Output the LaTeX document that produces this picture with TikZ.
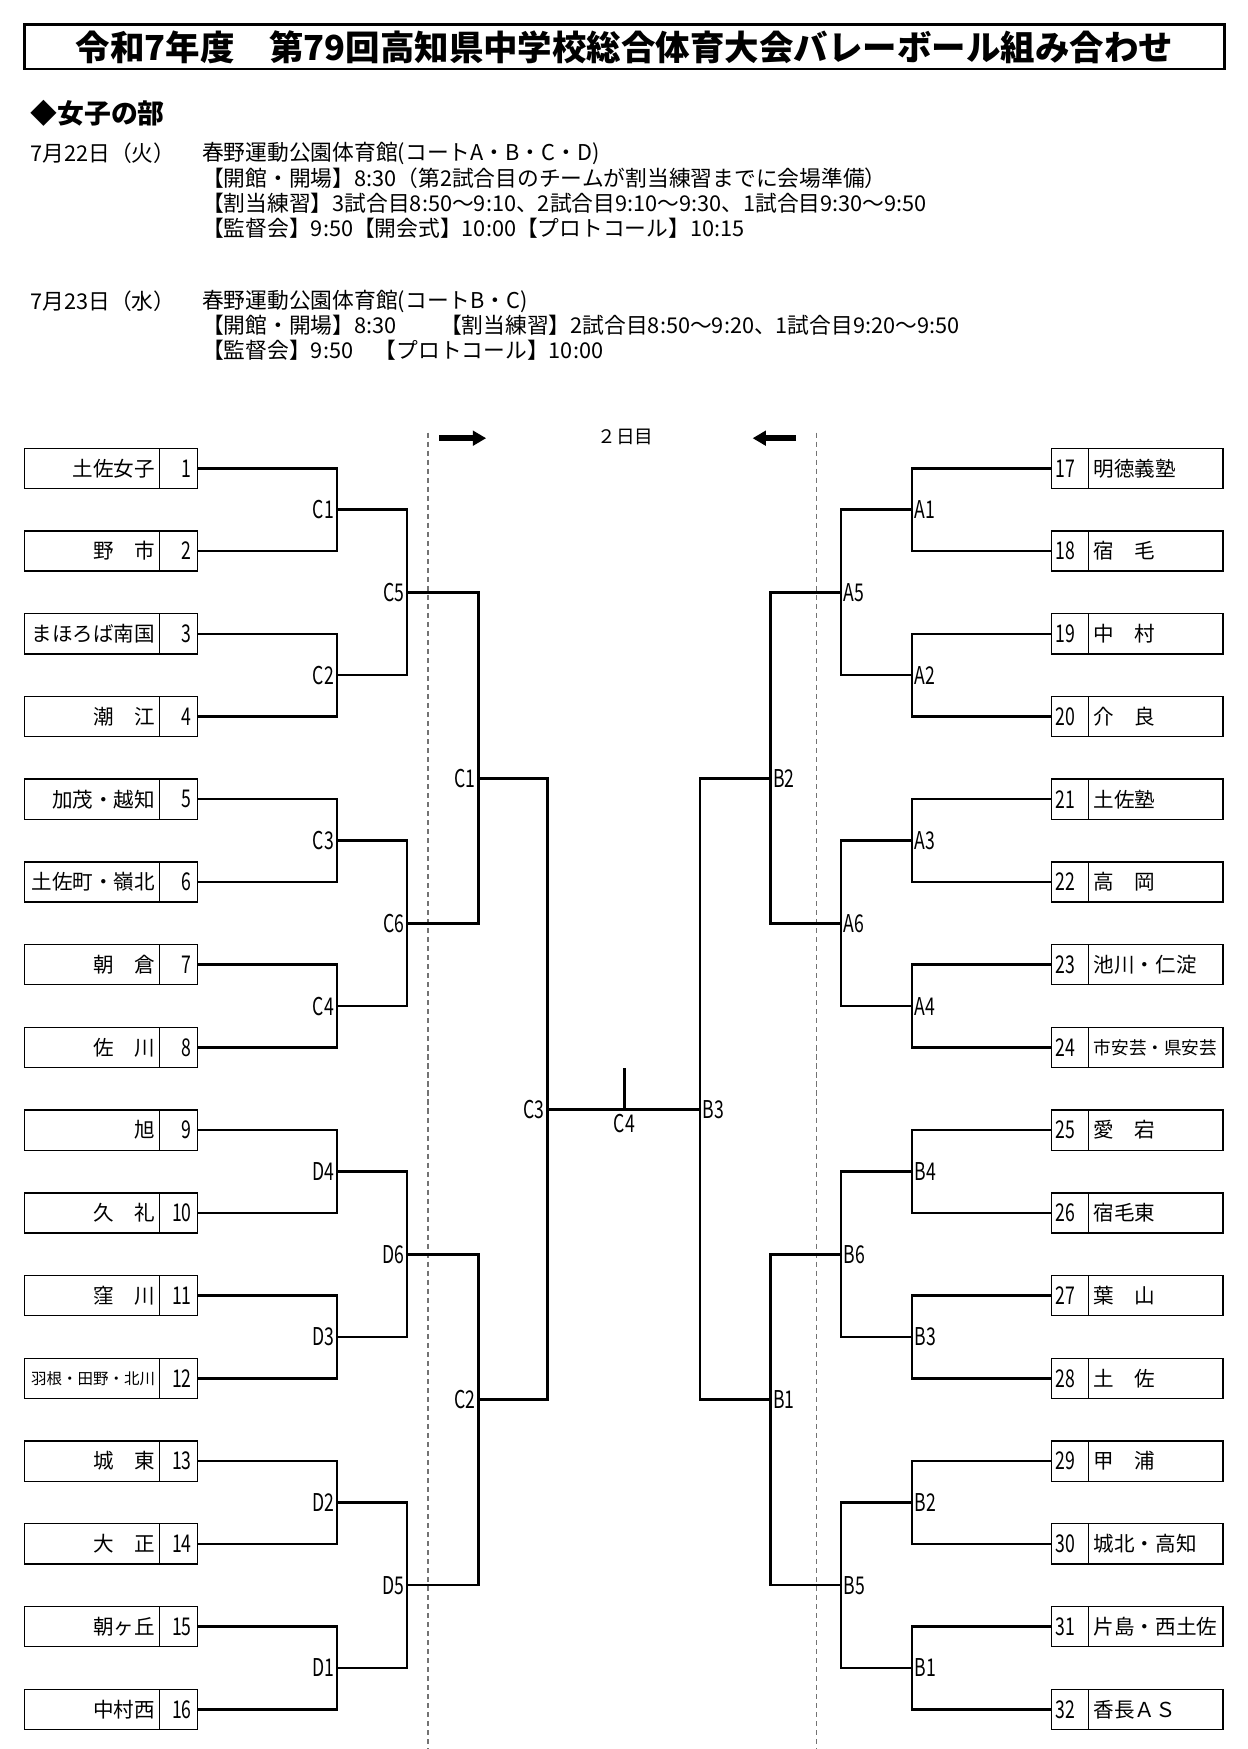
\documentclass[tikz,border=0pt]{standalone}
\usepackage{fontspec}
\usepackage{graphicx}
\setmainfont{Noto Sans CJK JP}
\usetikzlibrary{positioning,arrows.meta}
\newcommand\nar[1]{\scalebox{0.72}[1]{#1}}

\tikzset{
  wire/.style={line width=1.25pt},
  cell/.style={draw, line width=0.7pt, minimum height=0.72cm, outer sep=0pt, inner ysep=0pt},
  lname/.style={cell, text width=2.26cm, inner xsep=0.08cm, align=right, font=\fontsize{10.5}{12}\selectfont},
  lnum/.style={cell, text width=0.48cm, inner xsep=0.1cm, align=right, font=\fontsize{12.5}{13}\selectfont},
  rname/.style={cell, text width=2.22cm, inner xsep=0.1cm, align=left, font=\fontsize{10.5}{12}\selectfont},
  rnum/.style={cell, text width=0.52cm, inner xsep=0.07cm, align=left, font=\fontsize{12.5}{13}\selectfont},
  mlabel/.style={inner sep=1.2pt, font=\fontsize{12.5}{13}\selectfont},
  sched/.style={anchor=west, inner sep=0pt, font=\fontsize{11.1}{13}\selectfont},
  titlebox/.style={draw, line width=1.4pt, minimum width=21.52cm, minimum height=0.8cm, inner sep=0pt, font=\bfseries\fontsize{17.6}{20}\selectfont},
  dashline/.style={black!55, line width=0.7pt, dash pattern=on 2.6pt off 2pt},
  dayarrow/.style={line width=3.1pt, -{Triangle[length=6.8pt,width=7.4pt]}},
}

\begin{document}
\begin{tikzpicture}[x=0.02cm, y=-0.02cm]
  %%%%% HEAD %%%%%
  \useasboundingbox (0,0) rectangle (1118.4,1568.6);

  \node[titlebox] (title) at (560,42) {令和7年度　第79回高知県中学校総合体育大会バレーボール組み合わせ};
  \node[anchor=west, inner sep=0pt, font=\bfseries\fontsize{13.7}{15}\selectfont] (bu) at (27,102) {◆女子の部};

  %%%%% SCHEDULE %%%%%
  \node[sched] (d1) at (27,137.5) {7月22日（火）};
  \node[sched] (d1a) at (181,137.5) {春野運動公園体育館(コートA・B・C・D)};
  \node[sched] (d1b) at (181,160) {【開館・開場】8:30（第2試合目のチームが割当練習までに会場準備）};
  \node[sched] (d1c) at (181,182) {【割当練習】3試合目8:50～9:10、2試合目9:10～9:30、1試合目9:30～9:50};
  \node[sched] (d1d) at (181,204.5) {【監督会】9:50【開会式】10:00【プロトコール】10:15};

  \node[sched] (d2) at (27,270.5) {7月23日（水）};
  \node[sched] (d2a) at (181,270.5) {春野運動公園体育館(コートB・C)};
  \node[sched] (d2b) at (181,291.5) {【開館・開場】8:30　　【割当練習】2試合目8:50～9:20、1試合目9:20～9:50};
  \node[sched] (d2c) at (181,314) {【監督会】9:50　【プロトコール】10:00};

  %%%%% DAY 2 MARK %%%%%
  \draw[dashline] (384,388) -- (384,1568.6);
  \draw[dashline] (732,388) -- (732,1568.6);
  \draw[dayarrow] (394,393) -- (436,393);
  \draw[dayarrow] (714,393) -- (675,393);
  \node[inner sep=0pt, font=\fontsize{9.5}{11}\selectfont] (day2) at (561,392) {２日目};

  %%%%% TEAMS %%%%%
  \foreach \name [count=\i] in {土佐女子,野　市,まほろば南国,潮　江,加茂・越知,土佐町・嶺北,朝　倉,佐　川,旭,久　礼,窪　川,{\fontsize{7.9}{9}\selectfont 羽根・田野・北川},城　東,大　正,朝ヶ丘,中村西}{
    \pgfmathsetmacro\yy{420+(\i-1)*74.2}
    \node[lnum, anchor=east] (t\i) at (177,\yy) {\nar{\i}};
    \node[lname, left=0pt of t\i] (n\i) {\name};
  }
  \foreach \name [count=\i from 17] in {明徳義塾,宿　毛,中　村,介　良,土佐塾,高　岡,池川・仁淀,{\fontsize{9}{10}\selectfont 市安芸・県安芸},愛　宕,宿毛東,葉　山,土　佐,甲　浦,城北・高知,片島・西土佐,香長ＡＳ}{
    \pgfmathsetmacro\yy{420+(\i-17)*74.2}
    \node[rnum, anchor=west] (u\i) at (943,\yy) {\nar{\i}};
    \node[rname, right=0pt of u\i] (m\i) {\name};
  }

  %%%%% LEFT BRACKET %%%%%
  \foreach \lab [count=\k] in {C1,C2,C3,C4,D4,D3,D2,D1}{
    \pgfmathtruncatemacro\a{2*\k-1}
    \pgfmathtruncatemacro\b{2*\k}
    \pgfmathsetmacro\yy{420+(\a-1)*74.2+37.1}
    \coordinate (la\k) at (302,\yy);
    \draw[wire] (t\a.east) -| (la\k) |- (t\b.east);
    \node[mlabel, anchor=east] at (la\k) {\nar{\lab}};
  }
  \foreach \lab [count=\k] in {C5,C6,D6,D5}{
    \pgfmathtruncatemacro\a{2*\k-1}
    \pgfmathtruncatemacro\b{2*\k}
    \pgfmathsetmacro\yy{420+(4*\k-4)*74.2+111.3}
    \coordinate (lb\k) at (365,\yy);
    \draw[wire] (la\a) -| (lb\k) |- (la\b);
    \node[mlabel, anchor=east] at (lb\k) {\nar{\lab}};
  }
  \coordinate (lc1) at (429,698);
  \coordinate (lc2) at (429,1255);
  \draw[wire] (lb1) -| (lc1) |- (lb2);
  \draw[wire] (lb3) -| (lc2) |- (lb4);
  \node[mlabel, anchor=east] at (lc1) {\nar{C1}};
  \node[mlabel, anchor=east] at (lc2) {\nar{C2}};
  \coordinate (ld) at (491,995);
  \draw[wire] (lc1) -| (ld) |- (lc2);
  \node[mlabel, anchor=east] at (ld) {\nar{C3}};

  %%%%% RIGHT BRACKET %%%%%
  \foreach \lab [count=\k] in {A1,A2,A3,A4,B4,B3,B2,B1}{
    \pgfmathtruncatemacro\a{2*\k+15}
    \pgfmathtruncatemacro\b{2*\k+16}
    \pgfmathsetmacro\yy{420+(2*\k-2)*74.2+37.1}
    \coordinate (ra\k) at (818,\yy);
    \draw[wire] (u\a.west) -| (ra\k) |- (u\b.west);
    \node[mlabel, anchor=west] at (ra\k) {\nar{\lab}};
  }
  \foreach \lab [count=\k] in {A5,A6,B6,B5}{
    \pgfmathtruncatemacro\a{2*\k-1}
    \pgfmathtruncatemacro\b{2*\k}
    \pgfmathsetmacro\yy{420+(4*\k-4)*74.2+111.3}
    \coordinate (rb\k) at (754,\yy);
    \draw[wire] (ra\a) -| (rb\k) |- (ra\b);
    \node[mlabel, anchor=west] at (rb\k) {\nar{\lab}};
  }
  \coordinate (rc1) at (691,698);
  \coordinate (rc2) at (691,1255);
  \draw[wire] (rb1) -| (rc1) |- (rb2);
  \draw[wire] (rb3) -| (rc2) |- (rb4);
  \node[mlabel, anchor=west] at (rc1) {\nar{B2}};
  \node[mlabel, anchor=west] at (rc2) {\nar{B1}};
  \coordinate (rd) at (628,995);
  \draw[wire] (rc1) -| (rd) |- (rc2);
  \node[mlabel, anchor=west] at (rd) {\nar{B3}};

  %%%%% FINAL %%%%%
  \coordinate (fin) at (560,995);
  \coordinate (fintop) at (560,958);
  \draw[wire] (ld) -- (rd);
  \draw[wire] (fintop) -- (fin);
  \node[mlabel, anchor=north, inner sep=2pt] at (fin) {\nar{C4}};
\end{tikzpicture}
\end{document}
